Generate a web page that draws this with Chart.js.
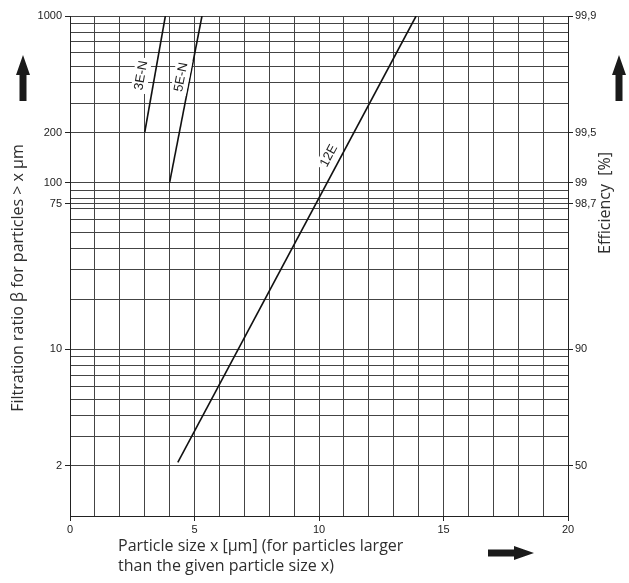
<!DOCTYPE html>
<html>
<head>
<meta charset="utf-8">
<script src="https://cdn.jsdelivr.net/npm/chart.js@4/dist/chart.umd.min.js"></script>
<style>
    html, body { margin: 0; padding: 0; background: #fff; }
    #wrap { width: 629px; height: 583px; position: relative; }
</style>
</head>
<body>
<div id="wrap"><canvas id="betaChart"></canvas></div>
<script>
// Particle size (x) and filtration ratio (beta) for each filter grade
const x3EN = [3.0, 3.83];
const beta3EN = [200, 1000];
const x5EN = [4.0, 5.3];
const beta5EN = [100, 1000];
const x12E = [4.33, 13.9];
const beta12E = [2.1, 1000];

// Line labels: text and where they sit (data coords)
const lineNames = ['3E-N', '5E-N', '12E'];
const labelX = [2.86, 4.47, 10.4];
const labelBeta = [440, 430, 145];

// Axis ticks
const gridBeta = [1, 2, 3, 4, 5, 6, 7, 8, 9, 10, 20, 30, 40, 50, 60, 70, 75, 80, 90,
                  100, 200, 300, 400, 500, 600, 700, 800, 900, 1000];
const betaTicks = [1000, 200, 100, 75, 10, 2];
const efficiencyLabels = ['99,9', '99,5', '99', '98,7', '90', '50'];
const xTickLabels = [0, 5, 10, 15, 20];

const tickFont = { family: 'Liberation Sans, Arial, sans-serif', size: 11 };
const titleFont = '16px "Open Sans", "Noto Sans", sans-serif';
const ink = '#222';
const gridColor = '#444';

function toPoints(xs, ys) {
    return xs.map((x, i) => ({ x: x, y: ys[i] }));
}

// draws filled arrow: (x,y) tip, dir 'up' or 'right'
function drawArrow(ctx, x, y, dir, len) {
    ctx.save();
    ctx.translate(x, y);
    if (dir === 'right') ctx.rotate(Math.PI / 2);
    ctx.fillStyle = '#1a1a1a';
    ctx.beginPath();
    ctx.moveTo(0, 0);
    ctx.lineTo(7, 20);
    ctx.lineTo(3.5, 20);
    ctx.lineTo(3.5, len);
    ctx.lineTo(-3.5, len);
    ctx.lineTo(-3.5, 20);
    ctx.lineTo(-7, 20);
    ctx.closePath();
    ctx.fill();
    ctx.restore();
}

const decorPlugin = {
    id: 'decor',
    afterDatasetsDraw(chart) {
        const ctx = chart.ctx;
        const xs = chart.scales.x, ys = chart.scales.y;
        // line labels on white boxes
        lineNames.forEach((name, i) => {
            const meta = chart.getDatasetMeta(i);
            const p0 = meta.data[0], p1 = meta.data[1];
            const ang = Math.atan2(p1.y - p0.y, p1.x - p0.x);
            const px = xs.getPixelForValue(labelX[i]);
            const py = ys.getPixelForValue(labelBeta[i]);
            ctx.save();
            ctx.translate(px, py);
            ctx.rotate(ang);
            ctx.font = '13px "Liberation Sans", Arial, sans-serif';
            const w = ctx.measureText(name).width;
            ctx.fillStyle = '#fff';
            ctx.fillRect(-w / 2 - 3, -8, w + 6, 16);
            ctx.fillStyle = ink;
            ctx.textAlign = 'center';
            ctx.textBaseline = 'middle';
            ctx.fillText(name, 0, 0);
            ctx.restore();
        });
    },
    afterDraw(chart) {
        const ctx = chart.ctx;
        const a = chart.chartArea;
        ctx.save();
        ctx.fillStyle = '#2e2e2e';
        ctx.font = titleFont;
        ctx.textBaseline = 'middle';
        // left title
        ctx.save();
        ctx.translate(18, (a.top + a.bottom) / 2 + 12);
        ctx.rotate(-Math.PI / 2);
        ctx.textAlign = 'center';
        ctx.fillText('Filtration ratio \u03B2 for particles > x \u00B5m', 0, 0);
        ctx.restore();
        // right title
        ctx.save();
        ctx.translate(605, a.top + 187);
        ctx.rotate(-Math.PI / 2);
        ctx.textAlign = 'center';
        ctx.fillText('Efficiency  [%]', 0, 0);
        ctx.restore();
        // bottom title, two lines
        ctx.textAlign = 'left';
        ctx.fillText('Particle size x [\u00B5m] (for particles larger', a.left + 48, a.bottom + 30);
        ctx.fillText('than the given particle size x)', a.left + 48, a.bottom + 50);
        ctx.restore();
        // arrows
        drawArrow(ctx, 23, a.top + 39, 'up', 46);
        drawArrow(ctx, 619, a.top + 39, 'up', 46);
        drawArrow(ctx, a.right - 34, a.bottom + 37, 'right', 46);
    }
};

const lineStyle = {
    borderColor: '#111',
    borderWidth: 1.6,
    pointRadius: 0,
    fill: false,
    tension: 0
};

new Chart(document.getElementById('betaChart').getContext('2d'), {
    type: 'line',
    data: {
        datasets: [
            Object.assign({ label: '3E-N', data: toPoints(x3EN, beta3EN) }, lineStyle),
            Object.assign({ label: '5E-N', data: toPoints(x5EN, beta5EN) }, lineStyle),
            Object.assign({ label: '12E', data: toPoints(x12E, beta12E) }, lineStyle)
        ]
    },
    options: {
        responsive: true,
        maintainAspectRatio: false,
        animation: false,
        layout: { padding: { top: 16, left: 0, right: 0, bottom: 0 } },
        plugins: {
            legend: { display: false },
            tooltip: { enabled: false }
        },
        scales: {
            x: {
                type: 'linear',
                min: 0,
                max: 20,
                afterFit: (s) => { s.height = 67; },
                border: { color: ink, width: 1 },
                grid: {
                    color: gridColor,
                    lineWidth: 1,
                    tickLength: 5,
                    tickColor: (c) => xTickLabels.includes(c.tick.value) ? ink : 'rgba(0,0,0,0)'
                },
                ticks: {
                    stepSize: 1,
                    autoSkip: false,
                    maxRotation: 0,
                    padding: 2,
                    color: ink,
                    font: tickFont,
                    callback: (v) => xTickLabels.includes(v) ? String(v) : ''
                }
            },
            y: {
                type: 'logarithmic',
                position: 'left',
                min: 1,
                max: 1000,
                afterFit: (s) => { s.width = 70; },
                afterBuildTicks: (s) => { s.ticks = gridBeta.map(v => ({ value: v })); },
                border: { color: ink, width: 1 },
                grid: {
                    color: gridColor,
                    lineWidth: 1,
                    tickLength: 5,
                    tickColor: (c) => betaTicks.includes(c.tick.value) ? ink : 'rgba(0,0,0,0)'
                },
                ticks: {
                    autoSkip: false,
                    padding: 3,
                    color: ink,
                    font: tickFont,
                    callback: (v) => betaTicks.includes(v) ? String(v) : ''
                }
            },
            y2: {
                type: 'logarithmic',
                position: 'right',
                min: 1,
                max: 1000,
                afterFit: (s) => { s.width = 61; },
                afterBuildTicks: (s) => { s.ticks = betaTicks.map(v => ({ value: v })); },
                border: { color: ink, width: 1 },
                grid: {
                    drawOnChartArea: false,
                    tickLength: 5,
                    tickColor: ink
                },
                ticks: {
                    autoSkip: false,
                    padding: 2,
                    color: ink,
                    font: tickFont,
                    callback: (v) => {
                        const i = betaTicks.indexOf(v);
                        return i >= 0 ? efficiencyLabels[i] : '';
                    }
                }
            }
        }
    },
    plugins: [decorPlugin]
});
</script>
</body>
</html>
